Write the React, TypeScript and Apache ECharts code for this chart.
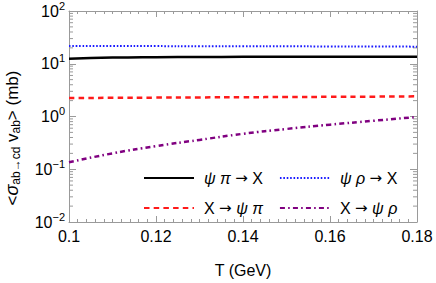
import React, { useEffect, useRef } from "react";
import * as echarts from "echarts";

const temps = [0.10, 0.11, 0.12, 0.13, 0.14, 0.15, 0.16, 0.17, 0.18];
const psiPiToX = [12.5, 13.1, 13.35, 13.45, 13.5, 13.5, 13.5, 13.5, 13.5];
const psiRhoToX = [21.8, 21.7, 21.6, 21.5, 21.45, 21.4, 21.3, 21.2, 21.1];
const xToPsiPi = [2.24, 2.26, 2.28, 2.3, 2.32, 2.34, 2.36, 2.38, 2.41];
const xToPsiRho = [0.136, 0.2, 0.275, 0.36, 0.47, 0.58, 0.7, 0.83, 0.98];

const xTicks = [0.1, 0.12, 0.14, 0.16, 0.18];
const yDecades = [0.01, 0.1, 1, 10, 100];
const yMinorMultipliers = [2, 3, 4, 5, 6, 7, 8, 9];

const names = ["ψπ→X", "ψρ→X", "X→ψπ", "X→ψρ"];
const legendLabels: Record<string, string> = {
  "ψπ→X": "{i|ψ} {i|π} {a|→} X",
  "ψρ→X": "{i|ψ} {i|ρ} {a|→} X",
  "X→ψπ": "X {a|→} {i|ψ} {i|π}",
  "X→ψρ": "X {a|→} {i|ψ} {i|ρ}",
};
const yTitle = "{t|<}{g|σ}{sub|ab→cd}{t| v}{sub|ab}{t|> (mb)}";

const FONT = "Liberation Sans, Arial, sans-serif";
const AXIS = "#9a9a9a";

export default function App() {
  const ref = useRef<HTMLDivElement>(null);
  useEffect(() => {
    if (!ref.current) return;
    const chart = echarts.init(ref.current, null, { renderer: "svg" });
    const xMin = xTicks[0];
    const xMax = xTicks[xTicks.length - 1];
    const minorVals: number[][] = [];
    yDecades.slice(0, -1).forEach((d) => {
      yMinorMultipliers.forEach((m) => minorVals.push([xMin, d * m]));
    });
    const mk = (arr: number[]) => temps.map((t, i) => [t, arr[i]]);
    const lineBase = {
      type: "line" as const,
      showSymbol: false,
      symbol: "none",
      smooth: true,
      xAxisIndex: 0,
      yAxisIndex: 0,
    };
    const expFmt = (v: number) => {
      const e = Math.round(Math.log10(v));
      const s = e < 0 ? "\u2212" + Math.abs(e) : String(e);
      return `{b|10}{s|${s}}`;
    };
    const legendCommon = {
      left: 143,
      padding: 0,
      itemWidth: 50,
      itemHeight: 14,
      itemGap: 16,
      orient: "horizontal" as const,
      formatter: (n: string) => legendLabels[n],
      itemStyle: { opacity: 0, color: "rgba(0,0,0,0)", borderWidth: 0 },
      textStyle: {
        fontFamily: FONT,
        fontSize: 16,
        color: "#000",
        width: 70,
        padding: [0, 0, 0, 5],
        rich: {
          i: { fontStyle: "italic", fontFamily: FONT, fontSize: 16, color: "#000" },
          a: { fontFamily: "DejaVu Sans", fontSize: 15, color: "#000" },
        },
      },
    };
    chart.setOption({
      animation: false,
      backgroundColor: "#fff",
      grid: { left: 69, right: 19, top: 10, bottom: 58, containLabel: false },
      legend: [
        { ...legendCommon, top: 170, data: [names[0], names[1]] },
        { ...legendCommon, top: 200, data: [names[2], names[3]] },
      ],
      graphic: [
        {
          type: "text",
          x: 12,
          y: 138,
          rotation: Math.PI / 2,
          silent: true,
          style: {
            text: yTitle,
            align: "center",
            verticalAlign: "middle",
            fontFamily: FONT,
            fontSize: 17,
            fill: "#000",
            rich: {
              t: { fontFamily: FONT, fontSize: 17, lineHeight: 20, fill: "#000" },
              g: { fontFamily: FONT, fontSize: 18, lineHeight: 20, fontStyle: "italic", fill: "#000" },
              sub: { fontFamily: FONT, fontSize: 12, lineHeight: 10, verticalAlign: "bottom", fill: "#000" },
            },
          },
        },
      ],
      xAxis: [
        {
          type: "value",
          min: xMin,
          max: xMax,
          interval: 0.02,
          name: "T (GeV)",
          nameLocation: "middle",
          nameGap: 40,
          nameTextStyle: { fontFamily: FONT, fontSize: 16, color: "#000" },
          axisLine: { show: true, lineStyle: { color: AXIS, width: 1 } },
          axisTick: { show: true, inside: true, length: 6, lineStyle: { color: AXIS } },
          minorTick: { show: true, splitNumber: 10, length: 3, lineStyle: { color: AXIS } },
          splitLine: { show: false },
          axisLabel: {
            fontFamily: FONT,
            fontSize: 16,
            color: "#000",
            margin: 6,
            formatter: (v: number) => String(+v.toFixed(2)),
          },
        },
        {
          type: "value",
          position: "top",
          min: xMin,
          max: xMax,
          interval: 0.02,
          axisLine: { show: true, lineStyle: { color: AXIS, width: 1 } },
          axisTick: { show: true, inside: true, length: 6, lineStyle: { color: AXIS } },
          minorTick: { show: true, splitNumber: 10, length: 3, lineStyle: { color: AXIS } },
          splitLine: { show: false },
          axisLabel: { show: false },
        },
      ],
      yAxis: [
        {
          type: "log",
          logBase: 10,
          min: yDecades[0],
          max: yDecades[yDecades.length - 1],
          interval: 1,
          axisLine: { show: true, lineStyle: { color: AXIS, width: 1 } },
          axisTick: { show: true, inside: true, length: 7, lineStyle: { color: AXIS } },
          splitLine: { show: false },
          axisLabel: {
            margin: 4,
            formatter: expFmt,
            rich: {
              b: { fontFamily: FONT, fontSize: 16, lineHeight: 22, color: "#000" },
              s: { fontFamily: FONT, fontSize: 11, lineHeight: 13, verticalAlign: "top", color: "#000" },
            },
          },
        },
        {
          type: "log",
          logBase: 10,
          position: "right",
          min: yDecades[0],
          max: yDecades[yDecades.length - 1],
          interval: 1,
          axisLine: { show: true, lineStyle: { color: AXIS, width: 1 } },
          axisTick: { show: true, inside: true, length: 7, lineStyle: { color: AXIS } },
          splitLine: { show: false },
          axisLabel: { show: false },
        },
      ],
      series: [
        {
          ...lineBase,
          name: names[0],
          data: mk(psiPiToX),
          z: 4,
          lineStyle: { color: "#000", width: 2.5, type: "solid" },
          itemStyle: { color: "#000" },
        },
        {
          ...lineBase,
          name: names[1],
          data: mk(psiRhoToX),
          lineStyle: { color: "#1a1aff", width: 2, type: [1.6, 1.8] },
          itemStyle: { color: "#1a1aff" },
        },
        {
          ...lineBase,
          name: names[2],
          data: mk(xToPsiPi),
          lineStyle: { color: "#ff1a1a", width: 2.5, type: [5.5, 4.2] },
          itemStyle: { color: "#ff1a1a" },
        },
        {
          ...lineBase,
          name: names[3],
          data: mk(xToPsiRho),
          lineStyle: { color: "#800080", width: 2.5, type: [5, 3.2, 1.6, 3.2] },
          itemStyle: { color: "#800080" },
        },
        {
          type: "custom",
          name: "minorTicks",
          xAxisIndex: 0,
          yAxisIndex: 0,
          silent: true,
          data: minorVals,
          renderItem: (params: any, api: any) => {
            const v = api.value(1);
            const l = api.coord([xMin, v]);
            const r = api.coord([xMax, v]);
            return {
              type: "group",
              children: [
                {
                  type: "line",
                  shape: { x1: l[0], y1: l[1], x2: l[0] + 4, y2: l[1] },
                  style: { stroke: AXIS, lineWidth: 1 },
                },
                {
                  type: "line",
                  shape: { x1: r[0] - 4, y1: r[1], x2: r[0], y2: r[1] },
                  style: { stroke: AXIS, lineWidth: 1 },
                },
              ],
            };
          },
        },
      ],
    });
    return () => chart.dispose();
  }, []);
  return <div ref={ref} style={{ width: 436, height: 283, position: "absolute", left: 0, top: 0 }} />;
}
